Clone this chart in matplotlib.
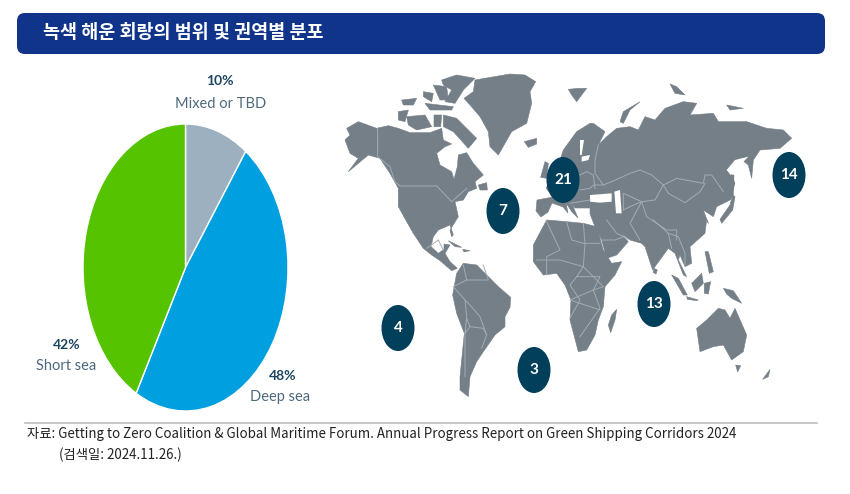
import matplotlib
matplotlib.use('Agg')
import matplotlib.pyplot as plt
from matplotlib.patches import Polygon, Ellipse, FancyBboxPatch

plt.rcParams['font.family'] = ['Noto Sans CJK KR', 'DejaVu Sans']

title = '녹색 해운 회랑의 범위 및 권역별 분포'
source1 = '자료: Getting to Zero Coalition & Global Maritime Forum. Annual Progress Report on Green Shipping Corridors 2024'
source2 = '(검색일: 2024.11.26.)'

# pie values, clockwise from the top
segments = ['Mixed or TBD', 'Deep sea', 'Short sea']
shares = [10, 48, 42]
seg_colors = ['#9cb0bf', '#009fe0', '#55c300']

# corridors per region
corridors = [7, 21, 14, 4, 13, 3]
bubble_xy = [(503, 211), (563, 180), (789, 175), (398, 328), (654, 304), (534, 370)]

LAND = '#757f87'
BORDER = '#a3acb2'
BUBBLE = '#023f5a'


# the zoom crops gave outlines in 3x coordinates, bring them back to pixels
def z1(pts):
	return [(330 + x / 3, 60 + y / 3) for x, y in pts]

def z2(pts):
	return [(580 + x / 3, 60 + y / 3) for x, y in pts]

def z3(pts):
	return [(370 + x / 3, 220 + y / 3) for x, y in pts]


north_america = z1([(50, 205), (85, 185), (140, 205), (175, 197), (205, 205), (240, 218), (300, 218),
	(335, 205), (340, 240), (365, 252), (345, 260), (320, 280), (330, 315), (365, 335), (372, 358),
	(382, 320), (385, 285), (410, 278), (430, 310), (460, 345), (435, 365), (440, 385), (415, 395),
	(400, 420), (375, 425), (385, 470), (360, 510), (365, 530)]) + z3([(250, 45), (240, 15), (205, 30),
	(190, 50), (183, 80), (205, 100), (222, 88), (222, 72), (240, 75), (225, 100), (240, 125), (262, 145),
	(245, 152), (210, 122), (185, 105), (160, 85), (130, 40), (110, 5)]) + z1([(205, 440), (205, 385),
	(180, 340), (150, 295), (115, 285), (85, 310), (55, 335), (85, 295), (60, 280), (45, 240), (60, 225)])

south_america = z3([(280, 130), (320, 135), (385, 200), (422, 232), (420, 262), (405, 290), (405, 320),
	(375, 345), (340, 395), (320, 425), (300, 470), (295, 530), (270, 510), (270, 470), (283, 340),
	(260, 280), (248, 225), (260, 160)])

greenland = z1([(435, 60), (540, 42), (585, 45), (617, 65), (600, 95), (605, 130), (590, 190), (545, 215),
	(505, 285), (480, 260), (475, 215), (450, 170), (420, 135), (402, 115), (430, 95)])

eurasia = z1([(690, 300), (700, 270), (740, 215), (780, 190)]) + z2([(40, 190), (75, 215), (55, 255),
	(80, 230), (110, 205), (150, 200), (175, 210), (195, 170), (225, 180), (255, 145), (310, 125), (350, 130),
	(330, 165), (400, 160), (415, 185), (500, 185), (560, 205), (610, 210), (635, 235), (600, 265), (540, 270),
	(520, 300), (515, 355), (505, 315), (480, 295), (440, 330), (455, 345), (465, 370), (450, 420), (410, 440),
	(400, 470), (370, 450), (385, 490)]) + z3([(1010, 0), (1005, 40), (960, 80), (965, 130), (945, 140),
	(930, 105), (925, 120), (950, 170), (940, 165), (915, 100), (895, 85), (855, 140), (848, 150), (825, 80),
	(815, 70), (780, 60), (745, 35), (735, 15), (760, 50), (775, 65), (740, 105), (710, 115), (695, 60),
	(675, 20)]) + [(590, 214), (590, 208), (575, 208), (572, 204), (578, 218), (572, 212), (566, 203), (568, 213),
	(563, 207), (552, 203), (548, 212), (541, 217), (536, 211), (537, 200), (553, 197), (546, 188), (552, 178)]

africa = z3([(490, 75), (530, 0), (590, 5), (640, 10), (680, 20), (700, 90), (725, 130), (755, 125), (735, 165),
	(705, 200), (700, 260), (685, 300), (675, 345), (650, 390), (625, 395), (600, 300), (603, 240), (585, 195),
	(560, 160), (520, 165), (490, 125)])

australia = z3([(1045, 265), (1065, 270), (1080, 295), (1095, 265), (1130, 345), (1120, 395), (1085, 420),
	(1060, 375), (1030, 380), (990, 395), (980, 325), (1010, 300)])

islands = [
	z1([(205, 155), (235, 150), (225, 185), (205, 180)]),
	z1([(230, 170), (285, 165), (305, 200), (260, 210), (235, 195)]),
	z1([(312, 165), (335, 165), (332, 200), (312, 200)]),
	z1([(215, 120), (260, 115), (250, 135), (220, 135)]),
	z1([(280, 95), (310, 100), (305, 125), (280, 110)]),
	z1([(285, 130), (370, 140), (365, 150), (300, 150)]),
	z1([(310, 75), (350, 80), (355, 120), (330, 120)]),
	z1([(335, 60), (380, 45), (435, 55), (400, 90), (375, 130), (345, 125), (365, 90), (340, 75)]),
	z1([(340, 165), (380, 175), (410, 205), (440, 235), (415, 265), (370, 215), (340, 200)]),
	z1([(445, 375), (470, 368), (472, 390), (450, 390)]),
	z1([(583, 245), (620, 235), (620, 252), (595, 262)]),
	z1([(645, 305), (655, 310), (650, 355), (632, 352)]),
	z1([(715, 88), (745, 85), (770, 85), (740, 125), (725, 105)]),
	z2([(120, 185), (130, 155), (180, 125), (150, 150), (130, 190)]),
	z2([(270, 72), (290, 80), (315, 105), (285, 100)]),
	z2([(440, 135), (490, 145), (450, 150)]),
	z2([(452, 345), (462, 345), (460, 405), (450, 420)]),
	z2([(420, 478), (450, 435), (458, 405), (465, 410), (458, 450), (425, 490)]),
	z3([(740, 268), (735, 300), (722, 338), (715, 315), (725, 285)]),
	z3([(905, 165), (925, 175), (952, 225), (940, 225)]),
	z3([(950, 230), (985, 240), (980, 242), (952, 238)]),
	z3([(965, 190), (995, 160), (1000, 190), (975, 215)]),
	z3([(1003, 190), (1022, 185), (1015, 222), (1003, 220)]),
	z3([(1060, 205), (1090, 212), (1115, 250), (1085, 235), (1070, 222)]),
	z3([(1005, 95), (1015, 95), (1030, 155), (1018, 160)]),
	z3([(852, 145), (862, 150), (858, 162), (850, 158)]),
	z3([(235, 62), (275, 82), (255, 80)]),
	z3([(278, 88), (300, 92), (282, 96)]),
	z3([(1097, 435), (1112, 437), (1103, 456)]),
	z3([(1200, 448), (1195, 470), (1178, 478)]),
]

# seas and lakes sitting inside the land shapes
seas = [
	z2([(30, 405), (95, 400), (95, 425), (60, 428), (30, 425)]),
	z2([(103, 395), (120, 390), (125, 460), (108, 460)]),
	z2([(0, 240), (12, 240), (5, 285), (0, 285)]),
	z2([(5, 290), (30, 285), (25, 300), (5, 305)]),
	z2([(440, 330), (465, 300), (505, 290), (452, 345)]),
]

borders = [
	z1([(143, 205), (143, 290), (180, 320), (195, 365), (210, 378), (320, 378), (365, 425), (410, 385)]),
	z2([(95, 365), (150, 340), (180, 330), (215, 345), (250, 375), (290, 355), (370, 370), (375, 345), (395, 345),
		(430, 395)]),
	z2([(250, 375), (265, 400), (315, 428), (360, 395), (375, 370)]),
	z2([(250, 375), (225, 420), (185, 425), (130, 400), (130, 450)]),
	z2([(55, 255), (45, 300), (45, 340), (70, 375), (95, 365)]),
	z2([(185, 425), (200, 470), (260, 510), (290, 510), (290, 540)]),
	z2([(130, 450), (150, 440), (185, 425), (150, 490), (180, 540)]),
	z3([(530, 5), (570, 90), (530, 110), (530, 165)]),
	z3([(590, 5), (605, 60), (640, 70), (690, 70)]),
	z3([(640, 10), (645, 70), (640, 140), (620, 170), (600, 195), (630, 240), (600, 295)]),
	z3([(500, 120), (570, 120), (640, 140), (700, 200), (670, 210), (690, 265), (630, 350)]),
	z3([(620, 170), (690, 170), (670, 210), (600, 240), (690, 270)]),
	z3([(280, 135), (290, 180), (250, 200), (285, 240), (290, 290), (285, 340), (285, 470)]),
	z3([(290, 180), (325, 180), (355, 180), (340, 135)]),
	z3([(285, 240), (300, 255), (330, 290), (350, 345), (335, 385)]),
	z3([(290, 295), (300, 320), (340, 325), (350, 345)]),
	z3([(285, 340), (300, 320)]),
	z3([(710, 0), (740, 40), (780, 60)]),
	z3([(850, 0), (895, 40), (925, 50), (945, 100), (945, 135)]),
	z3([(895, 40), (905, 85)]),
	z3([(695, 60), (735, 60), (760, 50)]),
	z2([(0, 390), (30, 385), (40, 375), (70, 375)]),
	z2([(0, 345), (20, 335), (40, 345), (45, 385)]),
	z1([(720, 430), (780, 420)]),
	z3([(170, 85), (205, 60), (220, 90)]),
]

pie_left, pie_right, pie_top, pie_bottom = 83, 288, 124, 411


def main():
	W, H = 850, 494
	fig = plt.figure(figsize=(W / 100, H / 100), dpi=100, facecolor='white')
	ax = fig.add_axes([0, 0, 1, 1])
	ax.set_xlim(0, W)
	ax.set_ylim(H, 0)
	ax.axis('off')

	# title bar
	ax.add_patch(FancyBboxPatch((33, 13), 776, 41, boxstyle='round,pad=0,rounding_size=8', mutation_aspect=1,
		fc='#0f348a', ec='none'))
	ax.add_patch(FancyBboxPatch((25, 21), 792, 25, boxstyle='round,pad=8,rounding_size=8', fc='#0f348a', ec='none'))
	ax.text(43, 33, title, color='white', fontsize=13.3, fontweight='bold', va='center', ha='left')

	# map
	for shape in [north_america, south_america, greenland, eurasia, africa, australia] + islands:
		ax.add_patch(Polygon(shape, closed=True, fc=LAND, ec=LAND, lw=0.4, zorder=2))
	for shape in seas:
		ax.add_patch(Polygon(shape, closed=True, fc='white', ec='none', zorder=3))
	for line in borders:
		ax.plot([p[0] for p in line], [p[1] for p in line], color=BORDER, lw=0.7, zorder=4)

	for n, (x, y) in zip(corridors, bubble_xy):
		ax.add_patch(Ellipse((x, y), 33, 46, fc=BUBBLE, ec='none', zorder=5))
		ax.text(x, y, str(n), color='white', fontsize=11, fontweight='bold', ha='center', va='center',
			fontfamily='Lato', zorder=6)

	# pie, squeezed the same way as the picture
	pax = fig.add_axes([pie_left / W, 1 - pie_bottom / H, (pie_right - pie_left) / W, (pie_bottom - pie_top) / H])
	pax.pie(shares, colors=seg_colors, startangle=90, counterclock=False, radius=1,
		wedgeprops={'edgecolor': 'white', 'linewidth': 1})
	pax.set_aspect('auto')
	pax.set_xlim(-1, 1)
	pax.set_ylim(-1, 1)

	label_xy = [(220, 81, 221, 104), (283, 376, 280, 397), (67, 345, 66, 366)]
	for name, share, (x1, y1, x2, y2) in zip(segments, shares, label_xy):
		ax.text(x1, y1, '%d%%' % share, color='#1e4560', fontsize=10, ha='center', va='center', fontfamily='Lato',
			fontweight='bold')
		ax.text(x2, y2, name, color='#4d6a7d', fontsize=10.5, ha='center', va='center', fontfamily='Lato')

	# source
	ax.plot([25, 817], [423, 423], color='#bdbdbd', lw=1.2)
	ax.text(27, 434, source1, color='#222222', fontsize=9.6, va='center', ha='left')
	ax.text(59, 455, source2, color='#222222', fontsize=9.6, va='center', ha='left')

	fig.savefig('out.png', dpi=100)


main()
